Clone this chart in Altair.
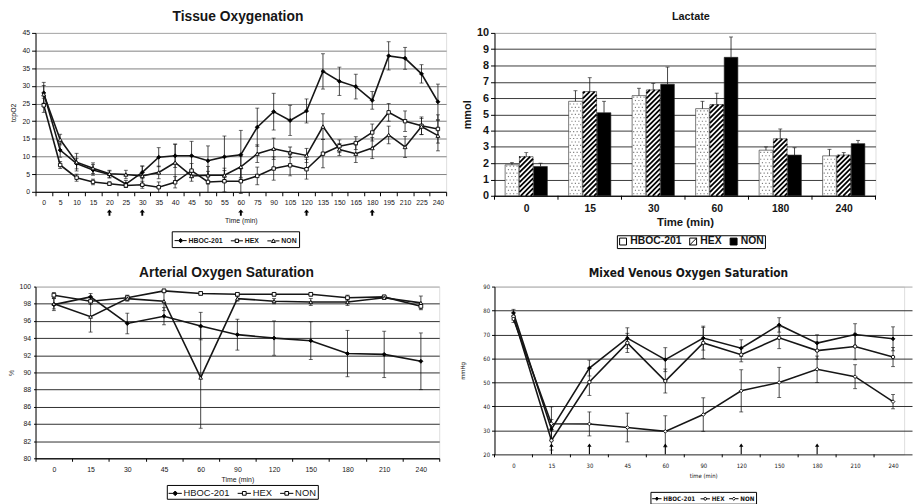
import json

import altair as alt
import pandas as pd

GROUPS = ["HBOC-201", "HEX", "NON"]

# ---------------- Tissue oxygenation (tcpO2) ----------------
TISSUE_TIME = ["0", "5", "10", "15", "20", "25", "30", "35", "40", "45", "50", "55", "60",
               "75", "90", "105", "120", "135", "150", "165", "180", "195", "210", "225", "240"]
TISSUE_HBOC = [28.0, 11.8, 8.0, 6.2, 4.9, 2.2, 5.5, 9.8, 10.2, 10.2, 8.8, 9.9, 10.5,
               18.3, 22.7, 20.2, 22.9, 34.1, 31.3, 29.8, 25.9, 38.5, 37.8, 33.4, 25.5]
TISSUE_HBOC_SD = [3.0, 2.0, 1.5, 1.5, 1.0, 1.0, 1.8, 2.7, 3.3, 4.1, 4.2, 5.9, 6.9,
                  5.4, 5.2, 4.3, 3.4, 5.0, 4.0, 3.5, 2.5, 4.0, 3.1, 2.6, 5.0]
TISSUE_HEX = [24.5, 7.6, 4.0, 2.8, 2.3, 1.8, 2.0, 1.3, 2.7, 6.0, 2.8, 3.0, 3.0,
              4.5, 6.6, 7.5, 6.4, 10.8, 12.9, 13.8, 16.8, 22.5, 20.0, 18.7, 17.8]
TISSUE_HEX_SD = [2.0, 1.0, 1.0, 0.8, 0.5, 0.5, 1.0, 1.5, 1.6, 2.0, 3.0, 3.0, 3.5,
                 2.5, 3.3, 3.0, 2.8, 4.0, 1.8, 1.8, 2.4, 2.5, 2.9, 2.5, 4.0]
TISSUE_NON = [27.6, 14.8, 8.4, 6.7, 5.1, 4.9, 4.5, 5.5, 8.3, 4.5, 4.7, 4.7, 7.1,
              10.8, 12.2, 11.2, 10.3, 18.5, 12.0, 10.8, 12.4, 16.1, 12.7, 18.5, 15.9]
TISSUE_NON_SD = [2.5, 1.5, 2.5, 1.5, 1.0, 1.2, 2.8, 1.8, 5.2, 1.5, 2.5, 2.0, 3.0,
                 2.5, 3.0, 1.5, 2.0, 3.6, 1.7, 2.5, 3.0, 2.5, 3.0, 2.3, 4.3]
TISSUE_ARROWS = ["20", "30", "60", "120", "180"]

# ---------------- Lactate (mmol) ----------------
LAC_TIME = ["0", "15", "30", "60", "180", "240"]
LAC_HBOC = [1.9, 5.8, 6.15, 5.35, 2.8, 2.45]
LAC_HBOC_SD = [0.15, 0.65, 0.45, 0.45, 0.2, 0.4]
LAC_HEX = [2.4, 6.4, 6.5, 5.6, 3.5, 2.5]
LAC_HEX_SD = [0.25, 0.85, 0.4, 0.7, 0.6, 0.15]
LAC_NON = [1.8, 5.1, 6.85, 8.5, 2.5, 3.2]
LAC_NON_SD = [0.2, 0.7, 1.05, 1.25, 0.45, 0.2]

# ---------------- Arterial oxygen saturation (%) ----------------
ART_TIME = ["0", "15", "30", "45", "60", "90", "120", "150", "180", "210", "240"]
ART_HBOC = [97.9, 98.8, 95.7, 96.55, 95.4, 94.4, 94.0, 93.7, 92.2, 92.1, 91.3]
ART_HBOC_SD = [0.7, 0.4, 1.2, 1.0, 1.6, 1.8, 2.0, 2.2, 2.7, 2.7, 3.3]
ART_HEX = [99.0, 98.3, 98.7, 99.5, 99.2, 99.1, 99.1, 99.1, 98.7, 98.8, 97.7]
ART_HEX_SD = [0.3, 0.4, 0.3, 0.2, 0.2, 0.2, 0.2, 0.2, 0.3, 0.2, 0.3]
ART_NON = [98.0, 96.5, 98.6, 98.3, 89.4, 98.6, 98.3, 98.2, 98.2, 98.7, 98.1]
ART_NON_SD = [0.6, 1.8, 0.3, 1.1, 5.9, 0.3, 0.3, 0.4, 0.4, 0.2, 0.8]

# ---------------- Mixed venous oxygen saturation (mmHg) ----------------
VEN_TIME = ["0", "15", "30", "45", "60", "90", "120", "150", "180", "210", "240"]
VEN_HBOC = [79.0, 30.5, 56.0, 68.5, 59.5, 68.5, 64.3, 74.0, 66.4, 70.0, 68.2]
VEN_HBOC_SD = [1.5, 4.0, 3.3, 4.3, 5.0, 5.0, 3.5, 3.0, 3.5, 4.5, 5.0]
VEN_HEX = [77.5, 25.8, 50.2, 66.5, 50.6, 66.5, 61.6, 68.6, 63.3, 65.0, 60.6]
VEN_HEX_SD = [1.5, 4.0, 5.6, 4.0, 5.0, 6.5, 3.0, 4.5, 3.6, 5.5, 4.0]
VEN_NON = [76.5, 32.8, 32.7, 31.2, 29.6, 36.6, 46.5, 50.0, 55.5, 52.4, 42.0]
VEN_NON_SD = [1.5, 7.0, 5.0, 6.0, 6.5, 7.0, 8.8, 6.3, 5.5, 5.0, 3.0]
VEN_ARROWS = ["15", "30", "60", "120", "180"]

FONT = "Liberation Sans, Arial, Helvetica, sans-serif"
NARROW = "Liberation Sans Narrow, DejaVu Sans Condensed, Liberation Sans, sans-serif"
INK = "#161616"
FRAME = "#a8a8a8"

ARROW_BOLD = "M0,-1L0.85,0L0.3,0L0.3,1L-0.3,1L-0.3,0L-0.85,0Z"
ARROW_THIN = "M0,-1L0.4,-0.4L0.1,-0.4L0.1,1L-0.1,1L-0.1,-0.4L-0.4,-0.4Z"

# legend glyphs: a short line with the series marker in the middle
LEG_DIAMOND = "M-1,0H-0.35M0.35,0H1M0,-0.35L0.35,0L0,0.35L-0.35,0Z"
LEG_SQUARE = "M-1,0H-0.28M0.28,0H1M-0.28,-0.28H0.28V0.28H-0.28Z"
LEG_TRIANGLE = "M-1,0H-0.3M0.3,0H1M0,-0.32L0.32,0.26H-0.32Z"
LEG_CIRCLE = "M-1,0H-0.3M0.3,0H1M-0.3,0A0.3,0.3 0 1,0 0.3,0A0.3,0.3 0 1,0 -0.3,0Z"
LEG_BOX = "M-1,-1H1V1H-1Z"
LEG_BOX_HATCH = "M-1,-1H1V1H-1Z M-1,1L1,-1"


def long_frame(times, values, sds):
    rows = []
    for g, vals, errs in zip(GROUPS, values, sds):
        for t, v, e in zip(times, vals, errs):
            rows.append({"time": t, "group": g, "value": v, "lo": v - e, "hi": v + e})
    return pd.DataFrame(rows)


def legend_layer(paths, fills, *, x, y, font, size, weight, symbol_size, col_pad, label_offset, pad):
    leg = alt.Legend(title=None, orient="none", legendX=x, legendY=y, direction="horizontal",
                     labelFont=font, labelFontSize=size, labelFontWeight=weight, labelColor=INK,
                     symbolSize=symbol_size, symbolStrokeWidth=1, symbolStrokeColor="black",
                     strokeColor="black", fillColor="white", padding=pad, columnPadding=col_pad,
                     labelOffset=label_offset)
    return (alt.Chart(pd.DataFrame({"group": GROUPS}))
            .transform_filter("false")
            .mark_point(filled=True, stroke="black", strokeWidth=1, opacity=1)
            .encode(shape=alt.Shape("group:N", scale=alt.Scale(domain=GROUPS, range=paths), legend=leg),
                    color=alt.Color("group:N", scale=alt.Scale(domain=GROUPS, range=fills), legend=leg)))


def line_panel(df, times, c):
    scale_kw = dict(domain=times, paddingInner=0, paddingOuter=0)
    if "xrange" in c:
        scale_kw["range"] = c["xrange"]
    xscale = alt.Scale(**scale_kw)
    xaxis = alt.Axis(title=c["xtitle"], labelAngle=0, labelFont=c["font"], labelFontSize=c["lsize"],
                     labelColor=INK, titleFont=c["font"], titleFontSize=c["tsize"], titleFontWeight="normal",
                     titleColor=INK, titlePadding=c["xtpad"], labelPadding=c["xlpad"], domainColor="black",
                     domain=c.get("xdomain", True), ticks=c.get("xticks", True), tickColor="black",
                     tickSize=c["xtick"], tickBand="extent", grid=False)
    X = alt.X("time:N", scale=xscale, axis=xaxis)
    lo, hi, step = c["ydomain"]
    yscale = alt.Scale(domain=[lo, hi], nice=False, zero=False)
    yaxis = alt.Axis(title=c["ytitle"], values=list(range(lo, hi + 1, step)), labelFont=c["font"],
                     labelFontSize=c["lsize"], labelColor=INK, titleFont=c["font"], titleFontSize=c["tsize"],
                     titleFontWeight="normal", titleColor=INK, titlePadding=c["ytpad"],
                     labelPadding=c["ylpad"], tickSize=c["ytick"], tickColor="black", domainColor="black",
                     grid=True, gridWidth=1,
                     gridColor={"condition": {"test": f"datum.value >= {hi}", "value": FRAME},
                                "value": c["grid"]})

    def Y(field):
        return alt.Y(f"{field}:Q", scale=yscale, axis=yaxis)

    base = alt.Chart(df)
    layers = [
        base.mark_rule(color=INK, strokeWidth=0.8).encode(x=X, y=Y("lo"), y2="hi:Q"),
        base.mark_tick(color=INK, orient="horizontal", size=c["cap"], thickness=0.9).encode(x=X, y=Y("lo")),
        base.mark_tick(color=INK, orient="horizontal", size=c["cap"], thickness=0.9).encode(x=X, y=Y("hi")),
        base.mark_line(color=INK, strokeWidth=c["lw"]).encode(x=X, y=Y("value"), detail="group:N"),
    ]
    for g, (shape, fill, size) in zip(GROUPS, c["markers"]):
        layers.append(base.transform_filter(alt.datum.group == g)
                      .mark_point(shape=shape, filled=True, fill=fill, stroke="black", strokeWidth=0.9,
                                  size=size, opacity=1)
                      .encode(x=X, y=Y("value")))
    if "manual_ticks" in c:
        layers.append(alt.Chart(pd.DataFrame({"time": times})).mark_rule(color="black")
                      .encode(x=alt.X("time:N", scale=xscale, axis=xaxis, bandPosition=0),
                              y=alt.value(c["height"]), y2=alt.value(c["height"] + c["manual_ticks"])))
    if "arrows" in c:
        times_a, path, size, ypix = c["arrows"]
        layers.append(alt.Chart(pd.DataFrame({"time": times_a}))
                      .mark_point(shape=path, filled=True, color="black", size=size, opacity=1)
                      .encode(x=X, y=alt.value(ypix)))
    layers.append(legend_layer(**c["legend"]))
    return alt.layer(*layers).properties(
        width=c["width"], height=c["height"],
        title=alt.TitleParams(c["title"], font=c["title_font"], fontSize=c["title_size"], fontWeight="bold",
                              color=INK, anchor="middle", frame="group", offset=c["title_offset"],
                              dx=c["title_dx"]))


# ---------------- panel A: tissue oxygenation ----------------
tissue = line_panel(
    long_frame(TISSUE_TIME, [TISSUE_HBOC, TISSUE_HEX, TISSUE_NON],
               [TISSUE_HBOC_SD, TISSUE_HEX_SD, TISSUE_NON_SD]),
    TISSUE_TIME,
    dict(width=416, height=161, ydomain=(0, 45, 5), ytitle="tcpO2", xtitle="Time (min)",
         font=FONT, lsize=7, tsize=7, xtpad=11, xlpad=3, xtick=4, ytpad=5, ylpad=2, ytick=4,
         grid="#808080", cap=4, lw=1.6,
         markers=[("diamond", "black", 16), ("square", "white", 12), ("triangle-up", "white", 16)],
         arrows=(TISSUE_ARROWS, ARROW_BOLD, 40, 182),
         legend=dict(paths=[LEG_DIAMOND, LEG_SQUARE, LEG_TRIANGLE], fills=["black", "white", "white"],
                     x=138, y=201, font=FONT, size=7, weight="bold", symbol_size=150, col_pad=5,
                     label_offset=1, pad=2),
         title="Tissue Oxygenation", title_font=FONT, title_size=14, title_offset=5, title_dx=-3))

# ---------------- panel C: arterial oxygen saturation ----------------
arterial = line_panel(
    long_frame(ART_TIME, [ART_HBOC, ART_HEX, ART_NON], [ART_HBOC_SD, ART_HEX_SD, ART_NON_SD]),
    ART_TIME,
    dict(width=409, height=174, ydomain=(80, 100, 2), ytitle="%", xtitle="Time (min)",
         font=FONT, lsize=7, tsize=7, xtpad=3, xlpad=4, xtick=3, ytpad=5, ylpad=3, ytick=2,
         grid="#2e2e2e", cap=4, lw=1.6,
         markers=[("diamond", "black", 16), ("square", "white", 14), ("triangle-up", "white", 14)],
         legend=dict(paths=[LEG_DIAMOND, LEG_SQUARE, LEG_SQUARE], fills=["black", "white", "white"],
                     x=133, y=201, font=FONT, size=9.5, weight="normal", symbol_size=180, col_pad=5,
                     label_offset=1, pad=1),
         title="Arterial Oxygen Saturation", title_font=FONT, title_size=14, title_offset=3,
         title_dx=-11))

# ---------------- panel D: mixed venous oxygen saturation ----------------
VEN_H = 170
venous = line_panel(
    long_frame(VEN_TIME, [VEN_HBOC, VEN_HEX, VEN_NON], [VEN_HBOC_SD, VEN_HEX_SD, VEN_NON_SD]),
    VEN_TIME,
    dict(width=415, height=VEN_H, ydomain=(20, 90, 10), ytitle="mmHg", xtitle="time (min)",
         font=NARROW, lsize=6, tsize=6, xtpad=4, xlpad=8, xtick=3, ytpad=18, ylpad=2, ytick=3,
         xdomain=False, xticks=False, manual_ticks=3, xrange=[0, 423],
         grid="#2e2e2e", cap=4, lw=1.6,
         markers=[("diamond", "black", 14), ("circle", "white", 12), ("diamond", "white", 14)],
         arrows=(VEN_ARROWS, ARROW_THIN, 121, VEN_H - 5.5),
         legend=dict(paths=[LEG_DIAMOND, LEG_CIRCLE, LEG_DIAMOND], fills=["black", "white", "white"],
                     x=158, y=208, font=NARROW, size=6.3, weight="bold", symbol_size=90, col_pad=2,
                     label_offset=1, pad=1),
         title="Mixed Venous Oxygen Saturation", title_font=NARROW, title_size=12, title_offset=4,
         title_dx=-11))

# ---------------- panel B: lactate, grouped bars ----------------
LAC_W, LAC_H = 386, 165
PX_X = LAC_W / len(LAC_TIME)      # pixels per category unit
PX_Y = LAC_H / 10.0               # pixels per mmol
BAR_W = 0.215
OFFSETS = [-0.225, 0.0, 0.225]
BAR_FILL = {"HBOC-201": "white", "HEX": "white", "NON": "black"}

bar_rows = []
for g, off, vals, errs in zip(GROUPS, OFFSETS, [LAC_HBOC, LAC_HEX, LAC_NON],
                              [LAC_HBOC_SD, LAC_HEX_SD, LAC_NON_SD]):
    for i, (v, e) in enumerate(zip(vals, errs)):
        bar_rows.append({"group": g, "paint": BAR_FILL[g], "x0": i + off - BAR_W / 2,
                         "x1": i + off + BAR_W / 2, "xc": i + off, "base": 0.0, "value": v, "top": v + e})
bars_df = pd.DataFrame(bar_rows)

# diagonal hatching for the HEX bars
hatch_rows = []
period = 5.0
w_px = BAR_W * PX_X
for r in bars_df[bars_df.group == "HEX"].itertuples():
    h_px = r.value * PX_Y
    c0 = -w_px + period / 2
    k = 0
    while c0 + k * period < h_px:
        cc = c0 + k * period
        xa, xb = max(0.0, -cc), min(w_px, h_px - cc)
        if xb > xa:
            hatch_rows.append({"x": r.x0 + xa / PX_X, "x2": r.x0 + xb / PX_X,
                               "y": (xa + cc) / PX_Y, "y2": (xb + cc) / PX_Y})
        k += 1
hatch_df = pd.DataFrame(hatch_rows)

# stippling for the HBOC-201 bars
dot_rows = []
for r in bars_df[bars_df.group == "HBOC-201"].itertuples():
    h_px = r.value * PX_Y
    row = 0
    yy = 2.0
    while yy < h_px - 1:
        xx = 1.6 + (row % 2) * 1.75
        while xx < w_px - 1:
            dot_rows.append({"x": r.x0 + xx / PX_X, "y": yy / PX_Y})
            xx += 3.5
        yy += 3.5
        row += 1
dot_df = pd.DataFrame(dot_rows)

lac_xscale = alt.Scale(domain=[-0.5, len(LAC_TIME) - 0.5], nice=False, zero=False)
lac_xaxis = alt.Axis(title="Time (min)", values=list(range(len(LAC_TIME))),
                     labelExpr=f"{json.dumps(LAC_TIME)}[datum.value]", ticks=False, grid=False,
                     labelFont=FONT, labelFontSize=10.5, labelFontWeight="bold", labelColor=INK,
                     titleFont=FONT, titleFontSize=11.5, titleFontWeight="bold", titleColor=INK,
                     labelPadding=8, titlePadding=3, domainColor="black", labelFlush=False)
lac_yscale = alt.Scale(domain=[0, 10], nice=False, zero=True)
lac_yaxis = alt.Axis(title="mmol", values=list(range(0, 11)), labelFont=FONT, labelFontSize=11,
                     labelFontWeight="bold", labelColor=INK, titleFont=FONT, titleFontSize=11,
                     titleFontWeight="bold", titleColor=INK, titlePadding=4, labelPadding=2,
                     tickSize=4, tickColor="black", domainColor="black", grid=True, gridWidth=1,
                     gridColor={"condition": {"test": "datum.value >= 10", "value": FRAME},
                                "value": "#3a3a3a"})


def LX(f):
    return alt.X(f"{f}:Q", scale=lac_xscale, axis=lac_xaxis)


def LY(f):
    return alt.Y(f"{f}:Q", scale=lac_yscale, axis=lac_yaxis)


lac_bars = alt.Chart(bars_df).mark_rect(stroke="#222", strokeWidth=0.6).encode(
    x=LX("x0"), x2="x1:Q", y=LY("base"), y2="value:Q",
    fill=alt.Fill("paint:N", scale=None))
lac_hatch = alt.Chart(hatch_df).mark_rule(color="black", strokeWidth=1.8, strokeCap="butt").encode(
    x=LX("x"), x2="x2:Q", y=LY("y"), y2="y2:Q")
lac_dots = alt.Chart(dot_df).mark_square(color="#7a7a7a", size=1.3, opacity=1).encode(x=LX("x"), y=LY("y"))
lac_err = alt.Chart(bars_df).mark_rule(color=INK, strokeWidth=0.8).encode(x=LX("xc"), y=LY("value"), y2="top:Q")
lac_cap = alt.Chart(bars_df).mark_tick(color=INK, orient="horizontal", size=4, thickness=0.9).encode(
    x=LX("xc"), y=LY("top"))
lac_ticks = alt.Chart(pd.DataFrame({"b": [i - 0.5 for i in range(len(LAC_TIME) + 1)]})).mark_rule(
    color="black").encode(x=LX("b"), y=alt.value(LAC_H), y2=alt.value(LAC_H + 4))
lac_legend = legend_layer([LEG_BOX, LEG_BOX_HATCH, LEG_BOX], ["white", "white", "black"],
                          x=124, y=205, font=FONT, size=10.5, weight="bold", symbol_size=49,
                          col_pad=5, label_offset=2, pad=1)

lactate = alt.layer(lac_bars, lac_dots, lac_hatch, lac_err, lac_cap, lac_ticks, lac_legend).properties(
    width=LAC_W, height=LAC_H,
    title=alt.TitleParams("Lactate", font=FONT, fontSize=11, fontWeight="bold", color=INK,
                          anchor="middle", frame="group", offset=5, dx=6))

chart = (alt.concat(tissue, lactate, arterial, venous, columns=2)
         .properties(spacing={"row": 92, "column": 49}, bounds="flush",
                     padding={"left": 6, "top": 6, "right": 0, "bottom": 0})
         .resolve_scale(shape="independent", color="independent")
         .resolve_legend(shape="independent", color="independent")
         .configure_view(stroke=FRAME)
         .configure(background="white"))

chart.save("out.html", embed_options={"renderer": "svg", "actions": False})
